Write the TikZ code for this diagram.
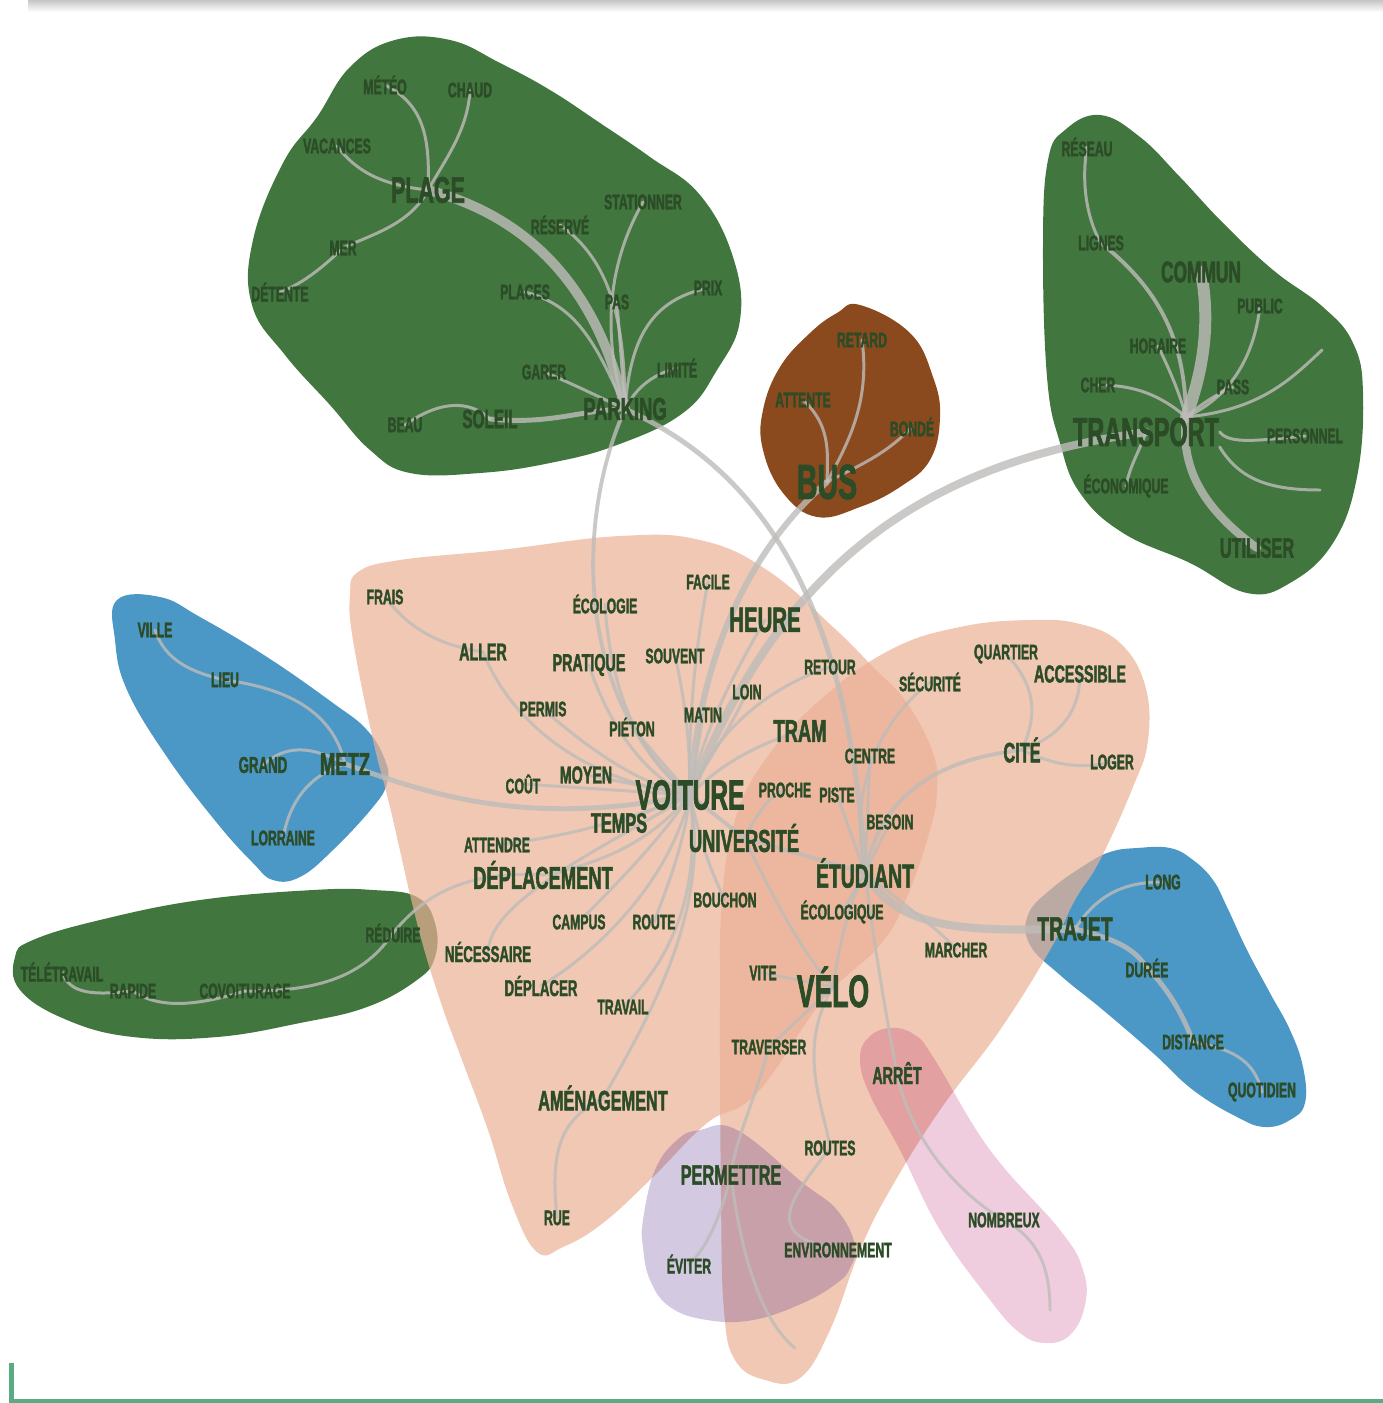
\documentclass[tikz,border=0pt]{standalone}
\usepackage{fontspec}
\newfontfamily\lblfont[FakeStretch=0.58,FakeBold=1.6]{Liberation Sans}
\pgfdeclarelayer{leaves}
\pgfsetlayers{leaves,main}
\definecolor{leafgreen}{RGB}{65,118,63}
\definecolor{barkbrown}{RGB}{139,74,30}
\definecolor{lakeblue}{RGB}{75,152,199}
\definecolor{peach}{RGB}{234,177,149}
\definecolor{rosey}{RGB}{180,5,90}
\definecolor{lilac}{RGB}{92,55,144}
\definecolor{inkgreen}{RGB}{44,75,39}
\definecolor{stemgray}{RGB}{190,188,185}
\definecolor{rulegreen}{RGB}{90,170,130}
\tikzset{
  word/.style={font={\lblfont\bfseries\fontsize{#1}{#1}\selectfont}, text=inkgreen, inner sep=0pt},
  twig/.style={word=6},
  vein/.style={draw=stemgray, draw opacity=0.8, line width=#1, line cap=round},
  vein/.default=0.85pt,
  blob/.style={smooth cycle, tension=0.7}
}
\begin{document}
\begin{tikzpicture}[x=0.01cm,y=-0.01cm]
	\useasboundingbox (0,0) rectangle (1383,1403);
	\shade[top color=gray!45, bottom color=white] (28,0) rectangle (1383,12);
	\fill[rulegreen] (9,1399) rectangle (1383,1403);
	\fill[rulegreen] (9,1363) rectangle (14,1403);

	% plage
	\node[word=10.5] (plage) at (428,190) {PLAGE};
	\node[word=9] (parking) at (625,409) {PARKING};
	\node[word=7.5] (soleil) at (490,419) {SOLEIL};
	\node[twig] (meteo) at (385,85) {MÉTÉO};
	\node[twig] (chaud) at (470,90) {CHAUD};
	\node[twig] (vacances) at (337,146) {VACANCES};
	\node[twig] (mer) at (343,248) {MER};
	\node[twig] (detente) at (280,292) {DÉTENTE};
	\node[twig] (reserve) at (560,225) {RÉSERVÉ};
	\node[twig] (stationner) at (643,202) {STATIONNER};
	\node[twig] (places) at (525,292) {PLACES};
	\node[twig] (pas) at (617,302) {PAS};
	\node[twig] (prix) at (708,288) {PRIX};
	\node[twig] (garer) at (544,372) {GARER};
	\node[twig] (limite) at (677,368) {LIMITÉ};
	\node[twig] (beau) at (405,425) {BEAU};

	% transport
	\node[word=8.5] (commun) at (1201,272) {COMMUN};
	\node[word=11.5] (transport) at (1146,432) {TRANSPORT};
	\node[word=8] (utiliser) at (1257,548) {UTILISER};
	\node[twig] (reseau) at (1087,147) {RÉSEAU};
	\node[twig] (lignes) at (1101,243) {LIGNES};
	\node[twig] (public) at (1260,306) {PUBLIC};
	\node[twig] (horaire) at (1158,346) {HORAIRE};
	\node[twig] (cher) at (1098,385) {CHER};
	\node[twig] (pass) at (1233,387) {PASS};
	\node[twig] (personnel) at (1305,436) {PERSONNEL};
	\node[twig] (economique) at (1126,486) {ÉCONOMIQUE};
	\coordinate (thub) at ([xshift=0.4cm]transport.north);
	\coordinate (tEndA) at (1322,350);
	\coordinate (tEndB) at (1320,490);

	% bus
	\node[word=14] (bus) at (827,482) {BUS};
	\node[twig] (retard) at (862,340) {RETARD};
	\node[twig] (attente) at (803,400) {ATTENTE};
	\node[twig] (bonde) at (912,427) {BONDÉ};

	% voiture
	\node[word=12] (voiture) at (690,795) {VOITURE};
	\node[word=10] (heure) at (765,620) {HEURE};
	\node[word=9] (tram) at (800,731) {TRAM};
	\node[word=8] (temps) at (619,823) {TEMPS};
	\node[word=9] (deplacement) at (543,875) {DÉPLACEMENT};
	\node[word=8] (amenagement) at (603,1098) {AMÉNAGEMENT};
	\node[twig] (frais) at (385,597) {FRAIS};
	\node[word=7] (aller) at (483,652) {ALLER};
	\node[twig] (ecologie) at (605,604) {ÉCOLOGIE};
	\node[twig] (facile) at (708,582) {FACILE};
	\node[word=7] (pratique) at (589,665) {PRATIQUE};
	\node[twig] (souvent) at (675,656) {SOUVENT};
	\node[twig] (permis) at (543,709) {PERMIS};
	\node[twig] (pieton) at (632,727) {PIÉTON};
	\node[twig] (matin) at (703,715) {MATIN};
	\node[twig] (loin) at (747,692) {LOIN};
	\node[twig] (retour) at (830,667) {RETOUR};
	\node[twig] (cout) at (523,784) {COÛT};
	\node[word=7] (moyen) at (586,775) {MOYEN};
	\node[twig] (attendre) at (497,845) {ATTENDRE};
	\node[twig] (campus) at (579,922) {CAMPUS};
	\node[twig] (route) at (654,922) {ROUTE};
	\node[twig] (bouchon) at (725,900) {BOUCHON};
	\node[word=6.5] (necessaire) at (488,952) {NÉCESSAIRE};
	\node[word=6.5] (deplacer) at (541,986) {DÉPLACER};
	\node[twig] (travail) at (623,1007) {TRAVAIL};
	\node[twig] (rue) at (557,1218) {RUE};

	% etudiant
	\node[word=9] (universite) at (744,838) {UNIVERSITÉ};
	\node[word=9.5] (etudiant) at (865,873) {ÉTUDIANT};
	\node[word=13] (velo) at (833,987) {VÉLO};
	\node[word=8] (cite) at (1022,750) {CITÉ};
	\node[word=8] (permettre) at (731,1175) {PERMETTRE};
	\node[word=7] (arret) at (897,1073) {ARRÊT};
	\node[twig] (proche) at (785,790) {PROCHE};
	\node[twig] (piste) at (837,795) {PISTE};
	\node[twig] (centre) at (870,756) {CENTRE};
	\node[twig] (securite) at (930,682) {SÉCURITÉ};
	\node[twig] (quartier) at (1006,654) {QUARTIER};
	\node[word=7] (accessible) at (1080,674) {ACCESSIBLE};
	\node[twig] (loger) at (1112,762) {LOGER};
	\node[twig] (besoin) at (890,822) {BESOIN};
	\node[twig] (ecologique) at (842,912) {ÉCOLOGIQUE};
	\node[twig] (marcher) at (956,950) {MARCHER};
	\node[twig] (vite) at (763,973) {VITE};
	\node[twig] (traverser) at (769,1047) {TRAVERSER};
	\node[twig] (routes) at (830,1148) {ROUTES};
	\node[twig] (eviter) at (689,1264) {ÉVITER};
	\node[twig] (environnement) at (838,1250) {ENVIRONNEMENT};
	\node[twig] (nombreux) at (1004,1220) {NOMBREUX};
	\coordinate (pEnd) at (795,1348);
	\coordinate (nEnd) at (1050,1310);

	% metz
	\node[word=9] (metz) at (345,764) {METZ};
	\node[twig] (ville) at (155,630) {VILLE};
	\node[twig] (lieu) at (225,680) {LIEU};
	\node[word=6.5] (grand) at (263,765) {GRAND};
	\node[twig] (lorraine) at (283,838) {LORRAINE};

	% gauche
	\node[twig] (teletravail) at (62,972) {TÉLÉTRAVAIL};
	\node[twig] (rapide) at (133,991) {RAPIDE};
	\node[twig] (covoiturage) at (245,991) {COVOITURAGE};
	\node[twig] (reduire) at (393,933) {RÉDUIRE};

	% trajet
	\node[word=9.5] (trajet) at (1075,929) {TRAJET};
	\node[twig] (long) at (1163,882) {LONG};
	\node[twig] (duree) at (1147,968) {DURÉE};
	\node[twig] (distance) at (1193,1042) {DISTANCE};
	\node[twig] (quotidien) at (1262,1092) {QUOTIDIEN};

	\begin{pgfonlayer}{leaves}
	\fill[leafgreen] plot[blob] coordinates {(253,240) (283,163) (317,117) (350,67) (395,40) (450,40) (500,63) (550,90) (600,123) (650,157) (700,195) (733,257) (740,320) (717,370) (683,413) (617,445) (550,463) (480,473) (410,473) (370,450) (330,405) (285,355) (252,305)};
	\fill[leafgreen] plot[blob] coordinates {(1100,115) (1140,137) (1180,177) (1223,223) (1273,270) (1323,307) (1353,343) (1363,393) (1357,477) (1333,543) (1290,583) (1247,593) (1190,563) (1123,533) (1080,493) (1060,443) (1047,377) (1043,243) (1048,160) (1065,130)};
	\fill[barkbrown] plot[blob] coordinates {(860,305) (910,333) (933,377) (940,417) (930,460) (900,487) (860,507) (817,517) (783,493) (763,450) (763,410) (780,367) (810,333) (837,313)};
	\fill[lakeblue] plot[blob] coordinates {(117,600) (160,597) (200,617) (267,657) (333,703) (367,730) (385,760) (387,783) (373,807) (333,850) (300,877) (273,880) (253,863) (217,823) (167,757) (127,690) (115,640)};
	\fill[leafgreen] plot[blob] coordinates {(313,890) (373,890) (417,897) (435,923) (435,957) (417,980) (367,1007) (300,1023) (217,1037) (133,1037) (67,1020) (20,990) (15,957) (33,940) (100,920) (200,900)};
	\fill[lakeblue] plot[blob] coordinates {(1137,848) (1170,848) (1193,860) (1213,880) (1227,907) (1247,950) (1270,993) (1290,1030) (1303,1067) (1305,1103) (1290,1120) (1265,1127) (1237,1117) (1193,1090) (1153,1053) (1103,1010) (1060,975) (1030,945) (1028,915) (1050,890) (1085,865) (1110,852)};
	\fill[peach, fill opacity=0.71] plot[blob] coordinates {(358,572) (400,560) (500,550) (620,536) (700,540) (767,570) (833,627) (873,667) (907,703) (933,753) (937,790) (930,830) (907,897) (880,945) (823,1000) (757,1093) (707,1123) (653,1177) (603,1223) (563,1247) (537,1252) (512,1205) (488,1130) (462,1060) (440,1000) (417,923) (390,807) (373,740) (353,640) (350,595)};
	\fill[peach, fill opacity=0.71] plot[blob] coordinates {(1030,620) (1080,624) (1120,643) (1145,685) (1148,740) (1133,787) (1100,860) (1075,900) (1050,950) (1000,1030) (940,1110) (890,1190) (860,1250) (830,1330) (800,1378) (765,1380) (735,1360) (724,1310) (721,1200) (720,1000) (722,900) (735,820) (765,760) (820,700) (890,650) (960,627)};
	\fill[lilac, fill opacity=0.27] plot[blob] coordinates {(700,1130) (737,1130) (803,1183) (837,1210) (855,1245) (850,1268) (837,1283) (803,1303) (753,1320) (707,1320) (670,1307) (650,1280) (643,1247) (643,1220) (655,1170) (677,1140)};
	\fill[rosey, fill opacity=0.2] plot[blob] coordinates {(890,1028) (915,1035) (935,1060) (990,1150) (1060,1230) (1083,1270) (1085,1305) (1070,1335) (1045,1343) (1020,1333) (990,1300) (940,1230) (900,1150) (870,1095) (860,1060) (868,1038)};

	\draw[vein] (meteo.center) .. controls (425,105) and (430,140) .. (plage.center);
	\draw[vein] (chaud.center) .. controls (468,130) and (445,160) .. (plage.center);
	\draw[vein] (vacances.center) .. controls (355,170) and (380,185) .. (plage.center);
	\draw[vein] (plage.center) .. controls (410,225) and (370,235) .. (mer.center);
	\draw[vein] (mer.center) .. controls (320,270) and (300,285) .. (detente.center);
	\draw[vein=2.8pt] (plage.center) .. controls (540,220) and (600,300) .. (parking.center);
	\draw[vein] (reserve.center) .. controls (610,260) and (625,320) .. (parking.center);
	\draw[vein] (stationner.center) .. controls (610,260) and (600,330) .. (parking.center);
	\draw[vein] (places.center) .. controls (575,305) and (595,340) .. (parking.center);
	\draw[vein] (pas.center) -- (parking.center);
	\draw[vein] (prix.center) .. controls (650,300) and (630,340) .. (parking.center);
	\draw[vein] (garer.center) .. controls (575,385) and (595,395) .. (parking.center);
	\draw[vein] (limite.center) .. controls (650,375) and (635,390) .. (parking.center);
	\draw[vein=1.4pt] (soleil.center) .. controls (550,425) and (580,410) .. (parking.center);
	\draw[vein] (beau.center) .. controls (440,400) and (470,400) .. (soleil.center);

	\draw[vein] (retard.center) .. controls (870,400) and (850,440) .. (bus.center);
	\draw[vein] (attente.center) .. controls (830,425) and (828,450) .. (bus.center);
	\draw[vein] (bonde.center) .. controls (885,455) and (860,465) .. (bus.center);
	\draw[vein=1.7pt] (bus.center) .. controls (760,540) and (700,640) .. (voiture.center);

	\draw[vein] (reseau.center) .. controls (1080,190) and (1090,225) .. (lignes.center);
	\draw[vein=1.1pt] (lignes.center) .. controls (1160,290) and (1185,340) .. (thub);
	\draw[vein=3.4pt] (commun.center) .. controls (1212,330) and (1200,380) .. (thub);
	\draw[vein] (public.center) .. controls (1255,350) and (1235,395) .. (thub);
	\draw[vein] (horaire.center) .. controls (1172,375) and (1180,395) .. (thub);
	\draw[vein] (cher.center) .. controls (1135,385) and (1160,395) .. (thub);
	\draw[vein] (pass.center) .. controls (1215,395) and (1200,405) .. (thub);
	\draw[vein] (thub) .. controls (1260,410) and (1290,380) .. (tEndA);
	\draw[vein] (personnel.center) .. controls (1260,440) and (1230,445) .. (transport.east);
	\draw[vein] (transport.south east) .. controls (1240,480) and (1270,490) .. (tEndB);
	\draw[vein] (economique.center) .. controls (1130,465) and (1140,450) .. (transport.center);
	\draw[vein=2.3pt] (utiliser.center) .. controls (1205,510) and (1180,470) .. (thub);
	\draw[vein=2.3pt] (transport.center) .. controls (950,460) and (790,540) .. (voiture.center);

	\draw[vein] (ville.center) .. controls (165,660) and (190,672) .. (lieu.center);
	\draw[vein] (lieu.center) .. controls (300,690) and (335,720) .. (metz.center);
	\draw[vein] (grand.center) .. controls (285,745) and (310,745) .. (metz.center);
	\draw[vein] (lorraine.center) .. controls (290,800) and (310,775) .. (metz.center);
	\draw[vein=1.4pt] (metz.center) .. controls (420,790) and (520,830) .. (voiture.center);

	\draw[vein] (teletravail.center) .. controls (70,995) and (95,995) .. (rapide.center);
	\draw[vein] (rapide.center) .. controls (160,1010) and (200,1005) .. (covoiturage.center);
	\draw[vein] (covoiturage.center) .. controls (320,992) and (365,975) .. (reduire.center);
	\draw[vein] (reduire.center) .. controls (420,900) and (460,870) .. (deplacement.center);

	\draw[vein] (frais.center) .. controls (410,630) and (440,645) .. (aller.center);
	\draw[vein] (aller.center) .. controls (510,720) and (580,780) .. (voiture.center);
	\draw[vein=1.1pt] (parking.center) .. controls (575,520) and (575,700) .. (voiture.center);
	\draw[vein] (ecologie.center) .. controls (610,690) and (640,760) .. (voiture.center);
	\draw[vein] (facile.center) .. controls (695,650) and (688,720) .. (voiture.center);
	\draw[vein] (heure.center) .. controls (730,680) and (700,740) .. (voiture.center);
	\draw[vein] (pratique.center) .. controls (610,730) and (650,780) .. (voiture.center);
	\draw[vein] (souvent.center) .. controls (685,700) and (690,740) .. (voiture.center);
	\draw[vein] (permis.center) .. controls (590,750) and (640,785) .. (voiture.center);
	\draw[vein] (pieton.center) -- (voiture.center);
	\draw[vein] (matin.center) -- (voiture.center);
	\draw[vein] (loin.center) .. controls (725,740) and (700,770) .. (voiture.center);
	\draw[vein] (retour.center) .. controls (760,690) and (710,740) .. (voiture.center);
	\draw[vein] (tram.center) .. controls (740,750) and (710,775) .. (voiture.center);
	\draw[vein] (cout.center) -- (voiture.center);
	\draw[vein] (moyen.center) -- (voiture.center);
	\draw[vein] (temps.center) -- (voiture.center);
	\draw[vein] (attendre.center) .. controls (580,835) and (640,815) .. (voiture.center);
	\draw[vein] (deplacement.center) .. controls (620,860) and (660,830) .. (voiture.center);
	\draw[vein] (campus.center) .. controls (620,880) and (660,840) .. (voiture.center);
	\draw[vein] (route.center) .. controls (670,880) and (685,840) .. (voiture.center);
	\draw[vein] (bouchon.center) .. controls (710,870) and (700,840) .. (voiture.center);
	\draw[vein] (necessaire.center) .. controls (490,900) and (600,850) .. (voiture.center);
	\draw[vein] (deplacer.center) .. controls (600,950) and (670,880) .. (voiture.center);
	\draw[vein] (travail.center) .. controls (680,950) and (700,880) .. (voiture.center);
	\draw[vein] (amenagement.center) .. controls (660,1000) and (710,900) .. (voiture.center);
	\draw[vein] (rue.center) .. controls (550,1150) and (560,1120) .. (amenagement.center);
	\draw[vein=1.1pt] (voiture.center) -- (universite.center);

	\draw[vein=1.4pt] (parking.center) .. controls (760,470) and (850,600) .. (etudiant.center);
	\draw[vein] (universite.center) .. controls (760,810) and (770,795) .. (proche.center);
	\draw[vein] (piste.center) -- (etudiant.center);
	\draw[vein] (centre.center) -- (etudiant.center);
	\draw[vein] (securite.center) .. controls (870,730) and (850,800) .. (etudiant.center);
	\draw[vein] (quartier.center) .. controls (1040,690) and (1035,720) .. (cite.center);
	\draw[vein] (accessible.center) .. controls (1080,720) and (1050,740) .. (cite.center);
	\draw[vein] (cite.center) .. controls (1060,768) and (1085,768) .. (loger.center);
	\draw[vein=1.1pt] (cite.center) .. controls (930,760) and (880,800) .. (etudiant.center);
	\draw[vein] (besoin.center) -- (etudiant.center);
	\draw[vein] (etudiant.center) -- (ecologique.center);
	\draw[vein=2.3pt] (etudiant.center) .. controls (900,935) and (980,930) .. (trajet.center);
	\draw[vein] (marcher.center) .. controls (945,935) and (930,925) .. (etudiant.center);
	\draw[vein=1.1pt] (universite.center) -- (etudiant.center);
	\draw[vein] (universite.center) .. controls (775,900) and (800,950) .. (velo.center);
	\draw[vein] (velo.center) -- (vite.center);
	\draw[vein] (velo.center) .. controls (840,940) and (850,900) .. (etudiant.center);
	\draw[vein] (velo.center) -- (traverser.center);
	\draw[vein] (traverser.center) .. controls (755,1100) and (735,1140) .. (permettre.center);
	\draw[vein] (velo.center) .. controls (795,1050) and (825,1110) .. (routes.center);
	\draw[vein] (routes.center) .. controls (790,1200) and (760,1235) .. (environnement.center);
	\draw[vein] (permettre.center) .. controls (720,1220) and (705,1250) .. (eviter.center);
	\draw[vein] (permettre.center) .. controls (740,1250) and (760,1320) .. (pEnd);
	\draw[vein] (etudiant.center) .. controls (875,950) and (885,1010) .. (arret.center);
	\draw[vein] (arret.center) .. controls (910,1140) and (960,1195) .. (nombreux.center);
	\draw[vein] (nombreux.center) .. controls (1040,1240) and (1050,1270) .. (nEnd);

	\draw[vein] (trajet.center) .. controls (1100,890) and (1130,882) .. (long.center);
	\draw[vein=1.4pt] (trajet.center) .. controls (1120,940) and (1135,950) .. (duree.center);
	\draw[vein=1.4pt] (duree.center) .. controls (1170,990) and (1185,1020) .. (distance.center);
	\draw[vein] (distance.center) .. controls (1240,1050) and (1255,1065) .. (quotidien.center);
	\end{pgfonlayer}
\end{tikzpicture}
\end{document}
